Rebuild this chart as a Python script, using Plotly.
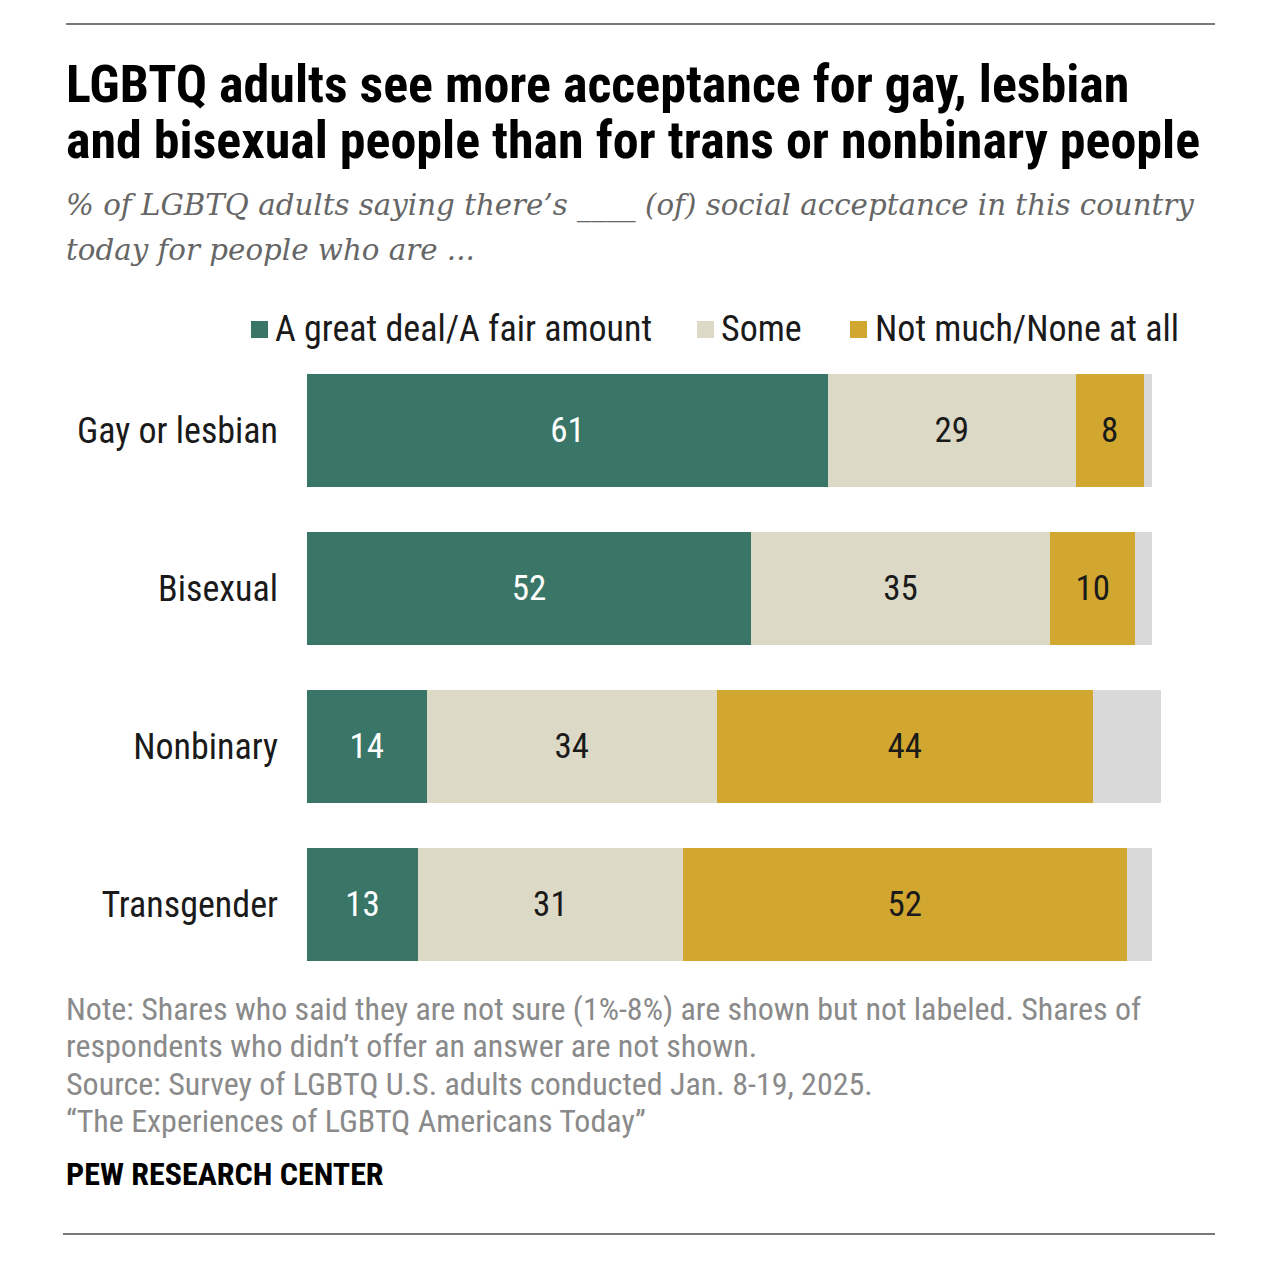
import plotly.graph_objects as go

categories = ["Gay or lesbian", "Bisexual", "Nonbinary", "Transgender"]
great_deal = [61, 52, 14, 13]
some = [29, 35, 34, 31]
not_much = [8, 10, 44, 52]
not_sure = [1, 2, 8, 3]
series_names = ["A great deal/A fair amount", "Some", "Not much/None at all"]

COND = "Roboto Condensed, Liberation Sans Narrow, Arial Narrow, sans-serif"
SERIF = "Georgia, DejaVu Serif, Liberation Serif, serif"

colors = ["#3a7668", "#dcd9c6", "#d2a730", "#d9d9d9"]
text_colors = ["white", "#1a1a1a", "#1a1a1a"]

fig = go.Figure()
for vals, name, col, tcol in zip([great_deal, some, not_much], series_names, colors[:3], text_colors):
    fig.add_trace(go.Bar(
        y=categories, x=vals, orientation="h", name=name,
        marker=dict(color=col, line=dict(width=0)),
        text=[str(v) for v in vals], textposition="inside",
        insidetextanchor="middle", textangle=0,
        textfont=dict(family=COND, size=35, color=tcol),
        showlegend=False, hoverinfo="skip",
    ))
fig.add_trace(go.Bar(
    y=categories, x=not_sure, orientation="h", name="Not sure",
    marker=dict(color=colors[3], line=dict(width=0)),
    showlegend=False, hoverinfo="skip",
))

W, H = 1280, 1262
L, R, T, B = 307, 1161, 351, 984

fig.update_layout(
    width=W, height=H,
    margin=dict(l=L, r=W - R, t=T, b=H - B),
    barmode="stack", bargap=0.285,
    plot_bgcolor="white", paper_bgcolor="white",
    uniformtext=dict(mode=False),
    xaxis=dict(range=[0, 100], visible=False, fixedrange=True),
    yaxis=dict(autorange="reversed", showgrid=False, zeroline=False, showline=False,
               ticks="", ticklabelstandoff=28,
               tickfont=dict(family=COND, size=36, color="#1a1a1a")),
)

def pap_x(px):
    return (px - L) / (R - L)

def pap_y(py):
    return (B - py) / (B - T)

annotations = []
shapes = []

# rules
for x0, y in [(66, 24), (63, 1234)]:
    shapes.append(dict(type="line", xref="paper", yref="paper",
                       x0=pap_x(x0), x1=pap_x(1215), y0=pap_y(y), y1=pap_y(y),
                       line=dict(color="#4d4d4d", width=1.5)))

# title
for i, line in enumerate(["LGBTQ adults see more acceptance for gay, lesbian",
                          "and bisexual people than for trans or nonbinary people"]):
    annotations.append(dict(text="<b>" + line + "</b>", x=pap_x(64), y=pap_y(84 + 56 * i),
                            xref="paper", yref="paper", xanchor="left", yanchor="middle",
                            showarrow=False, font=dict(family=COND, size=52, color="#000000")))
# subtitle
for i, line in enumerate(["% of LGBTQ adults saying there’s ____ (of) social acceptance in this country",
                          "today for people who are ..."]):
    annotations.append(dict(text="<i>" + line + "</i>", x=pap_x(64), y=pap_y(205 + 45 * i),
                            xref="paper", yref="paper", xanchor="left", yanchor="middle",
                            showarrow=False, font=dict(family=SERIF, size=29.3, color="#666666")))

# legend
legend_pos = [(251, 273), (697, 719), (850, 873)]
for (sx, tx), name, col in zip(legend_pos, series_names, colors[:3]):
    shapes.append(dict(type="rect", xref="paper", yref="paper",
                       x0=pap_x(sx), x1=pap_x(sx + 17), y0=pap_y(338), y1=pap_y(321),
                       fillcolor=col, line=dict(width=0)))
    annotations.append(dict(text=name, x=pap_x(tx), y=pap_y(329), xref="paper", yref="paper",
                            xanchor="left", yanchor="middle", showarrow=False,
                            font=dict(family=COND, size=36, color="#1a1a1a")))

# notes
notes = ["Note: Shares who said they are not sure (1%-8%) are shown but not labeled. Shares of",
         "respondents who didn’t offer an answer are not shown.",
         "Source: Survey of LGBTQ U.S. adults conducted Jan. 8-19, 2025.",
         "“The Experiences of LGBTQ Americans Today”"]
for i, line in enumerate(notes):
    annotations.append(dict(text=line, x=pap_x(64), y=pap_y(1009 + 37.3 * i),
                            xref="paper", yref="paper", xanchor="left", yanchor="middle",
                            showarrow=False, font=dict(family=COND, size=32, color="#8a8a8a")))
annotations.append(dict(text="<b>PEW RESEARCH CENTER</b>", x=pap_x(64), y=pap_y(1174),
                        xref="paper", yref="paper", xanchor="left", yanchor="middle",
                        showarrow=False, font=dict(family=COND, size=32, color="#000000")))

fig.update_layout(annotations=annotations, shapes=shapes)
fig.write_html("out.html")
